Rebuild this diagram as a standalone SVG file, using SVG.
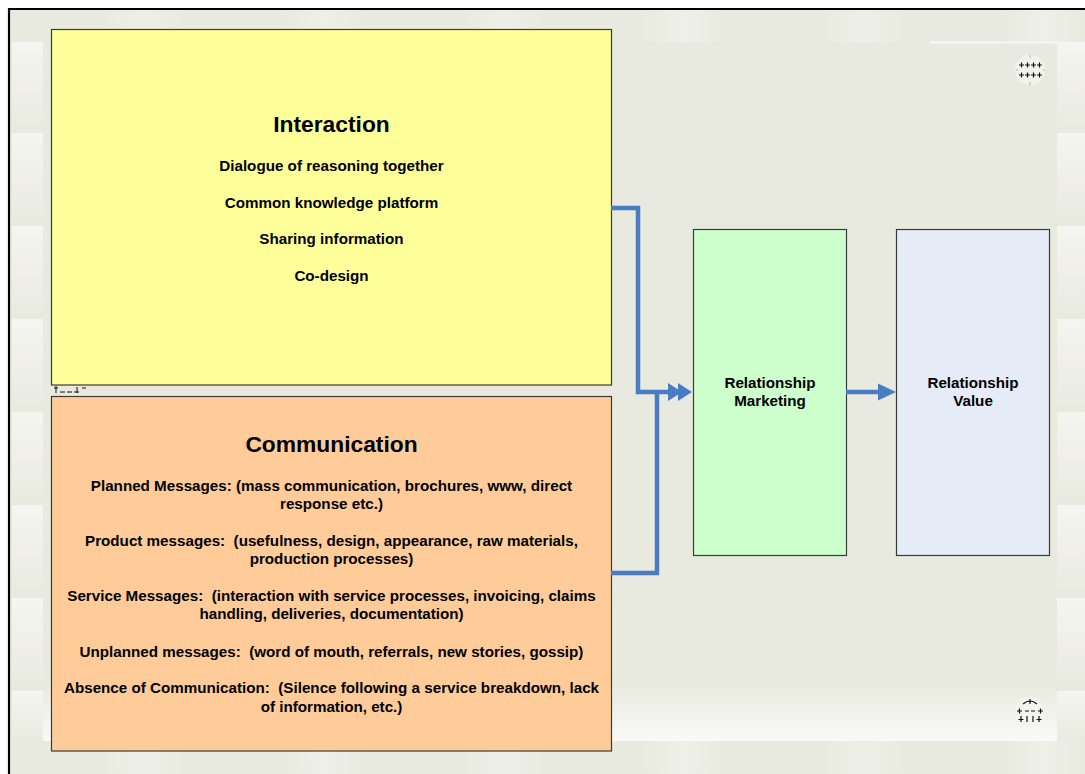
<svg xmlns="http://www.w3.org/2000/svg" xmlns:xlink="http://www.w3.org/1999/xlink" width="1085" height="774" viewBox="0 0 1085 774">
  <defs>
    <style>
      .box { stroke: #3a3a3a; stroke-width: 1.2; }
      .title { font-family: "Liberation Sans", Arial, sans-serif; font-weight: bold; font-size: 22.8px; fill: #000; text-anchor: middle; }
      .item { font-family: "Liberation Sans", Arial, sans-serif; font-weight: bold; font-size: 15.2px; fill: #000; text-anchor: middle; white-space: pre; }
      .link { fill: none; stroke: #4a7cc4; stroke-width: 4.5; stroke-linejoin: miter; }
      .tick { fill: none; stroke: #111; stroke-width: 1.2; }
    </style>
    <linearGradient id="tileV" x1="0" y1="0" x2="0" y2="1">
      <stop offset="0" stop-color="#f5f5f1"/>
      <stop offset="1" stop-color="#e9eadf"/>
    </linearGradient>
    <linearGradient id="tileH" x1="0" y1="0" x2="1" y2="0">
      <stop offset="0" stop-color="#e9eadf"/>
      <stop offset="0.5" stop-color="#eeefe6"/>
      <stop offset="1" stop-color="#e9eadf"/>
    </linearGradient>
    <linearGradient id="bottomBand" x1="0" y1="0" x2="0" y2="1">
      <stop offset="0" stop-color="#e9eadf"/>
      <stop offset="1" stop-color="#f9f9f8"/>
    </linearGradient>
    <marker id="dbl" markerUnits="userSpaceOnUse" markerWidth="30" markerHeight="20" refX="0" refY="9" orient="auto" overflow="visible">
      <path d="M0,0 L14,9 L0,18 Z M10,0 L24,9 L10,18 Z" fill="#4a7cc4"/>
    </marker>
    <marker id="single" markerUnits="userSpaceOnUse" markerWidth="20" markerHeight="20" refX="0" refY="8.5" orient="auto" overflow="visible">
      <path d="M0,0 L18,8.5 L0,17 Z" fill="#4a7cc4"/>
    </marker>
    <g id="handle">
      <circle cx="0" cy="0" r="15" fill="#f4f4f0" opacity="0.9"/>
    </g>
  </defs>

  <!-- slide background and frame -->
  <rect x="0" y="0" width="1085" height="774" fill="#ffffff"/>
  <rect x="10" y="10" width="1075" height="764" fill="#e9eadf"/>
  <g id="tiles">
    <rect x="12" y="42" width="31" height="88" fill="url(#tileV)"/>
    <rect x="12" y="133" width="31" height="89" fill="url(#tileV)"/>
    <rect x="12" y="226" width="31" height="89" fill="url(#tileV)"/>
    <rect x="12" y="319" width="31" height="89" fill="url(#tileV)"/>
    <rect x="12" y="412" width="31" height="89" fill="url(#tileV)"/>
    <rect x="12" y="505" width="31" height="89" fill="url(#tileV)"/>
    <rect x="12" y="598" width="31" height="89" fill="url(#tileV)"/>
    <rect x="12" y="691" width="31" height="50" fill="url(#tileV)"/>
    <rect x="1057" y="42" width="28" height="88" fill="url(#tileV)"/>
    <rect x="1057" y="133" width="28" height="89" fill="url(#tileV)"/>
    <rect x="1057" y="226" width="28" height="89" fill="url(#tileV)"/>
    <rect x="1057" y="319" width="28" height="89" fill="url(#tileV)"/>
    <rect x="1057" y="412" width="28" height="89" fill="url(#tileV)"/>
    <rect x="1057" y="505" width="28" height="89" fill="url(#tileV)"/>
    <rect x="1057" y="598" width="28" height="89" fill="url(#tileV)"/>
    <rect x="1057" y="691" width="28" height="50" fill="url(#tileV)"/>
    <rect x="100" y="10" width="88" height="32" fill="url(#tileH)"/>
    <rect x="280" y="10" width="88" height="32" fill="url(#tileH)"/>
    <rect x="460" y="10" width="88" height="32" fill="url(#tileH)"/>
    <rect x="640" y="10" width="88" height="32" fill="url(#tileH)"/>
    <rect x="820" y="10" width="88" height="32" fill="url(#tileH)"/>
    <rect x="1000" y="10" width="85" height="32" fill="url(#tileH)"/>
    <rect x="100" y="741" width="88" height="33" fill="url(#tileH)"/>
    <rect x="280" y="741" width="88" height="33" fill="url(#tileH)"/>
    <rect x="460" y="741" width="88" height="33" fill="url(#tileH)"/>
    <rect x="640" y="741" width="88" height="33" fill="url(#tileH)"/>
    <rect x="820" y="741" width="88" height="33" fill="url(#tileH)"/>
    <rect x="1000" y="741" width="85" height="33" fill="url(#tileH)"/>
    <rect x="43" y="685" width="1014" height="56" fill="url(#bottomBand)"/>
    <line x1="930" y1="42.5" x2="1057" y2="42.5" stroke="#f7f7f4" stroke-width="2"/>
  </g>
  <line x1="8" y1="9" x2="1085" y2="9" stroke="#000" stroke-width="2.2"/>
  <line x1="9" y1="8" x2="9" y2="774" stroke="#000" stroke-width="2.2"/>

  <!-- move handles -->
  <g id="handle-top">
    <use xlink:href="#handle" x="1030" y="70"/>
    <g class="tick">
      <path d="M1019,65 h5 M1021.5,62.5 v5 M1025,65 h5 M1027.5,62.5 v5 M1031,65 h5 M1033.5,62.5 v5 M1037,65 h5 M1039.5,62.5 v5"/>
      <path d="M1019,75 h5 M1021.5,72.5 v5 M1025,75 h5 M1027.5,72.5 v5 M1031,75 h5 M1033.5,72.5 v5 M1037,75 h5 M1039.5,72.5 v5"/>
      <path d="M1030,55 v3 M1030,82 v3 M1016,70 h2 M1043,70 h2" stroke="#999" stroke-width="0.8"/>
    </g>
  </g>
  <g id="handle-bottom">
    <use xlink:href="#handle" x="1030" y="712"/>
    <g class="tick">
      <path d="M1023,704 q7,-6 14,0 M1030,699 v5"/>
      <path d="M1017,711 h5 M1019.5,708.5 v5 M1025,711 h4 M1031,711 h4 M1038,711 h5 M1040.5,708.5 v5"/>
      <path d="M1021,716 v6 M1018.5,719.5 h5 M1027,716 v6 M1033,716 v6 M1039,716 v6 M1036.5,719.5 h5"/>
    </g>
  </g>
  <g id="handle-side" class="tick">
    <path d="M56,386 v7 M54,388 h4 M60,392 h5 M67,392 h5 M74,392 h5 M77,387 v6 M82,388 h4" stroke-width="1"/>
  </g>

  <!-- nodes -->
  <g id="interaction">
    <rect class="box" x="51.5" y="29.5" width="560" height="355.5" fill="#ffff99"/>
    <text class="title" x="331.5" y="132">Interaction</text>
    <text class="item" x="331.5" y="171">Dialogue of reasoning together</text>
    <text class="item" x="331.5" y="208">Common knowledge platform</text>
    <text class="item" x="331.5" y="244">Sharing information</text>
    <text class="item" x="331.5" y="281">Co-design</text>
  </g>

  <g id="communication">
    <rect class="box" x="51.5" y="396.5" width="560" height="354.5" fill="#ffcc99"/>
    <text class="title" x="331.5" y="452">Communication</text>
    <text class="item" x="331.5" y="491" xml:space="preserve">Planned Messages: (mass communication, brochures, www, direct</text>
    <text class="item" x="331.5" y="509">response etc.)</text>
    <text class="item" x="331.5" y="546" xml:space="preserve">Product messages:  (usefulness, design, appearance, raw materials,</text>
    <text class="item" x="331.5" y="564">production processes)</text>
    <text class="item" x="331.5" y="601" xml:space="preserve">Service Messages:  (interaction with service processes, invoicing, claims</text>
    <text class="item" x="331.5" y="619">handling, deliveries, documentation)</text>
    <text class="item" x="331.5" y="657" xml:space="preserve">Unplanned messages:  (word of mouth, referrals, new stories, gossip)</text>
    <text class="item" x="331.5" y="693" xml:space="preserve">Absence of Communication:  (Silence following a service breakdown, lack</text>
    <text class="item" x="331.5" y="712">of information, etc.)</text>
  </g>

  <g id="relationship-marketing">
    <rect class="box" x="693.5" y="229.5" width="153" height="326" fill="#ccffcc"/>
    <text class="item" x="770" y="388">Relationship</text>
    <text class="item" x="770" y="406">Marketing</text>
  </g>

  <g id="relationship-value">
    <rect class="box" x="896.5" y="229.5" width="153" height="326" fill="#e5ecf7"/>
    <text class="item" x="973" y="388">Relationship</text>
    <text class="item" x="973" y="406">Value</text>
  </g>

  <!-- connectors -->
  <g id="connectors">
    <path class="link" d="M611,208 H638 V392 H668" marker-end="url(#dbl)"/>
    <path class="link" d="M611,573 H657 V390"/>
    <path class="link" d="M846,392 H878" marker-end="url(#single)"/>
  </g>
</svg>
